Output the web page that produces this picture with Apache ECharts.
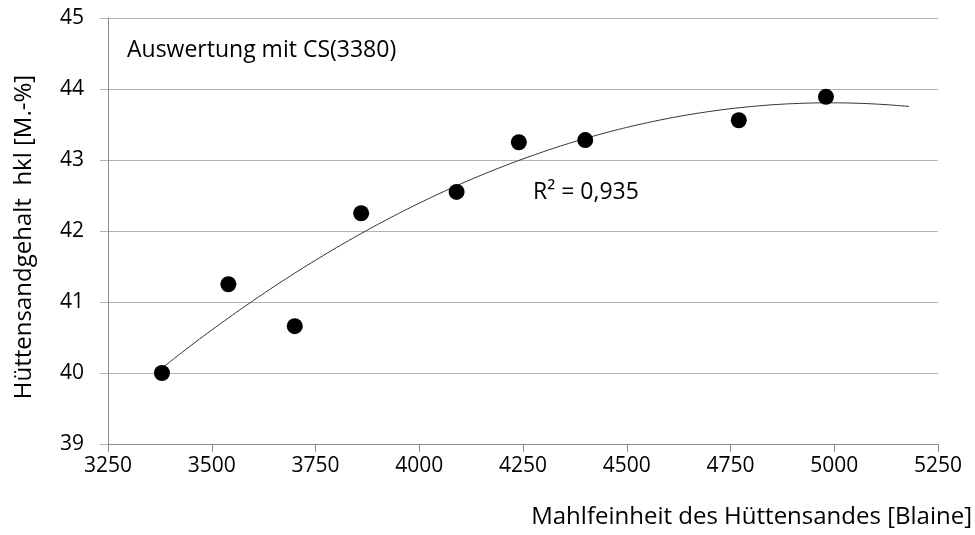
<!DOCTYPE html>
<html><head><meta charset="utf-8">
<script src="https://cdn.jsdelivr.net/npm/echarts@6/dist/echarts.min.js"></script>
<style>html,body{margin:0;padding:0;background:#fff}#c{width:975px;height:535px}</style>
</head><body><div id="c"></div>
<script>
const blaine = [3380, 3540, 3700, 3860, 4090, 4240, 4400, 4770, 4980];
const hkl = [40.0, 41.25, 40.66, 42.25, 42.55, 43.25, 43.28, 43.56, 43.89];
const xTicks = [3250, 3500, 3750, 4000, 4250, 4500, 4750, 5000, 5250];
const yTicks = [39, 40, 41, 42, 43, 44, 45];
const trendRange = [3380, 5180];
const r2Label = 'R² = 0,935';
const note = 'Auswertung mit CS(3380)';

// least-squares quadratic trendline from the data
function quadFit(xs, ys) {
  const n = xs.length, x0 = 4000;
  let S = [0,0,0,0,0], T = [0,0,0];
  for (let i = 0; i < n; i++) {
    const x = xs[i] - x0;
    for (let k = 0; k < 5; k++) S[k] += Math.pow(x, k);
    for (let k = 0; k < 3; k++) T[k] += ys[i] * Math.pow(x, k);
  }
  const A = [[S[0],S[1],S[2],T[0]],[S[1],S[2],S[3],T[1]],[S[2],S[3],S[4],T[2]]];
  for (let i = 0; i < 3; i++) {
    for (let j = i + 1; j < 3; j++) {
      const f = A[j][i] / A[i][i];
      for (let k = i; k < 4; k++) A[j][k] -= f * A[i][k];
    }
  }
  const c = [0,0,0];
  for (let i = 2; i >= 0; i--) {
    let s = A[i][3];
    for (let k = i + 1; k < 3; k++) s -= A[i][k] * c[k];
    c[i] = s / A[i][i];
  }
  return x => c[0] + c[1]*(x-x0) + c[2]*(x-x0)*(x-x0);
}
const f = quadFit(blaine, hkl);
const trend = [];
for (let x = trendRange[0]; x <= trendRange[1]; x += 10) trend.push([x, f(x)]);

const FONT = 'Open Sans';
const chart = echarts.init(document.getElementById('c'));
chart.setOption({
  animation: false,
  textStyle: { fontFamily: FONT },
  grid: { left: 108, right: 37, top: 18, bottom: 91 },
  xAxis: {
    type: 'value', min: xTicks[0], max: xTicks[xTicks.length-1], interval: 250,
    axisLine: { show: true, lineStyle: { color: '#8c8c8c', width: 1 } },
    axisTick: { show: true, length: 8, lineStyle: { color: '#8c8c8c' } },
    axisLabel: { color: '#000', fontSize: 21, margin: 12, fontFamily: FONT, formatter: v => String(v) },
    splitLine: { show: false },
    name: 'Mahlfeinheit des Hüttensandes [Blaine]',
    nameLocation: 'end', nameGap: 0,
    nameTextStyle: { color: '#000', fontSize: 24, fontFamily: FONT, align: 'right', verticalAlign: 'top', padding: [61, -34, 0, 0] }
  },
  yAxis: {
    type: 'value', min: yTicks[0], max: yTicks[yTicks.length-1], interval: 1,
    axisLine: { show: true, lineStyle: { color: '#8c8c8c', width: 1 } },
    axisTick: { show: true, length: 8, lineStyle: { color: '#b3b3b3' } },
    axisLabel: { color: '#000', fontSize: 21, margin: 24, fontFamily: FONT },
    splitLine: { show: true, lineStyle: { color: '#b3b3b3', width: 1 } },
    name: 'Hüttensandgehalt  hkl [M.-%]',
    nameLocation: 'middle', nameGap: 72, nameRotate: 90,
    nameTextStyle: { color: '#000', fontSize: 24, fontFamily: FONT, padding: [0, 12, 0, 0] }
  },
  series: [
    {
      type: 'line', data: trend, showSymbol: false, symbol: 'none', smooth: false,
      lineStyle: { color: '#333', width: 1 }, z: 2, silent: true
    },
    {
      type: 'scatter', data: blaine.map((x, i) => [x, hkl[i]]),
      symbol: 'circle', symbolSize: 16, itemStyle: { color: '#000', opacity: 1 }, z: 3
    }
  ],
  graphic: [
    { type: 'text', left: 127, top: 39, style: { text: note, font: '23px "Open Sans"', fill: '#000' } },
    { type: 'text', left: 533, top: 181, style: { text: r2Label, font: '23px "Open Sans"', fill: '#000' } }
  ]
});
</script></body></html>
